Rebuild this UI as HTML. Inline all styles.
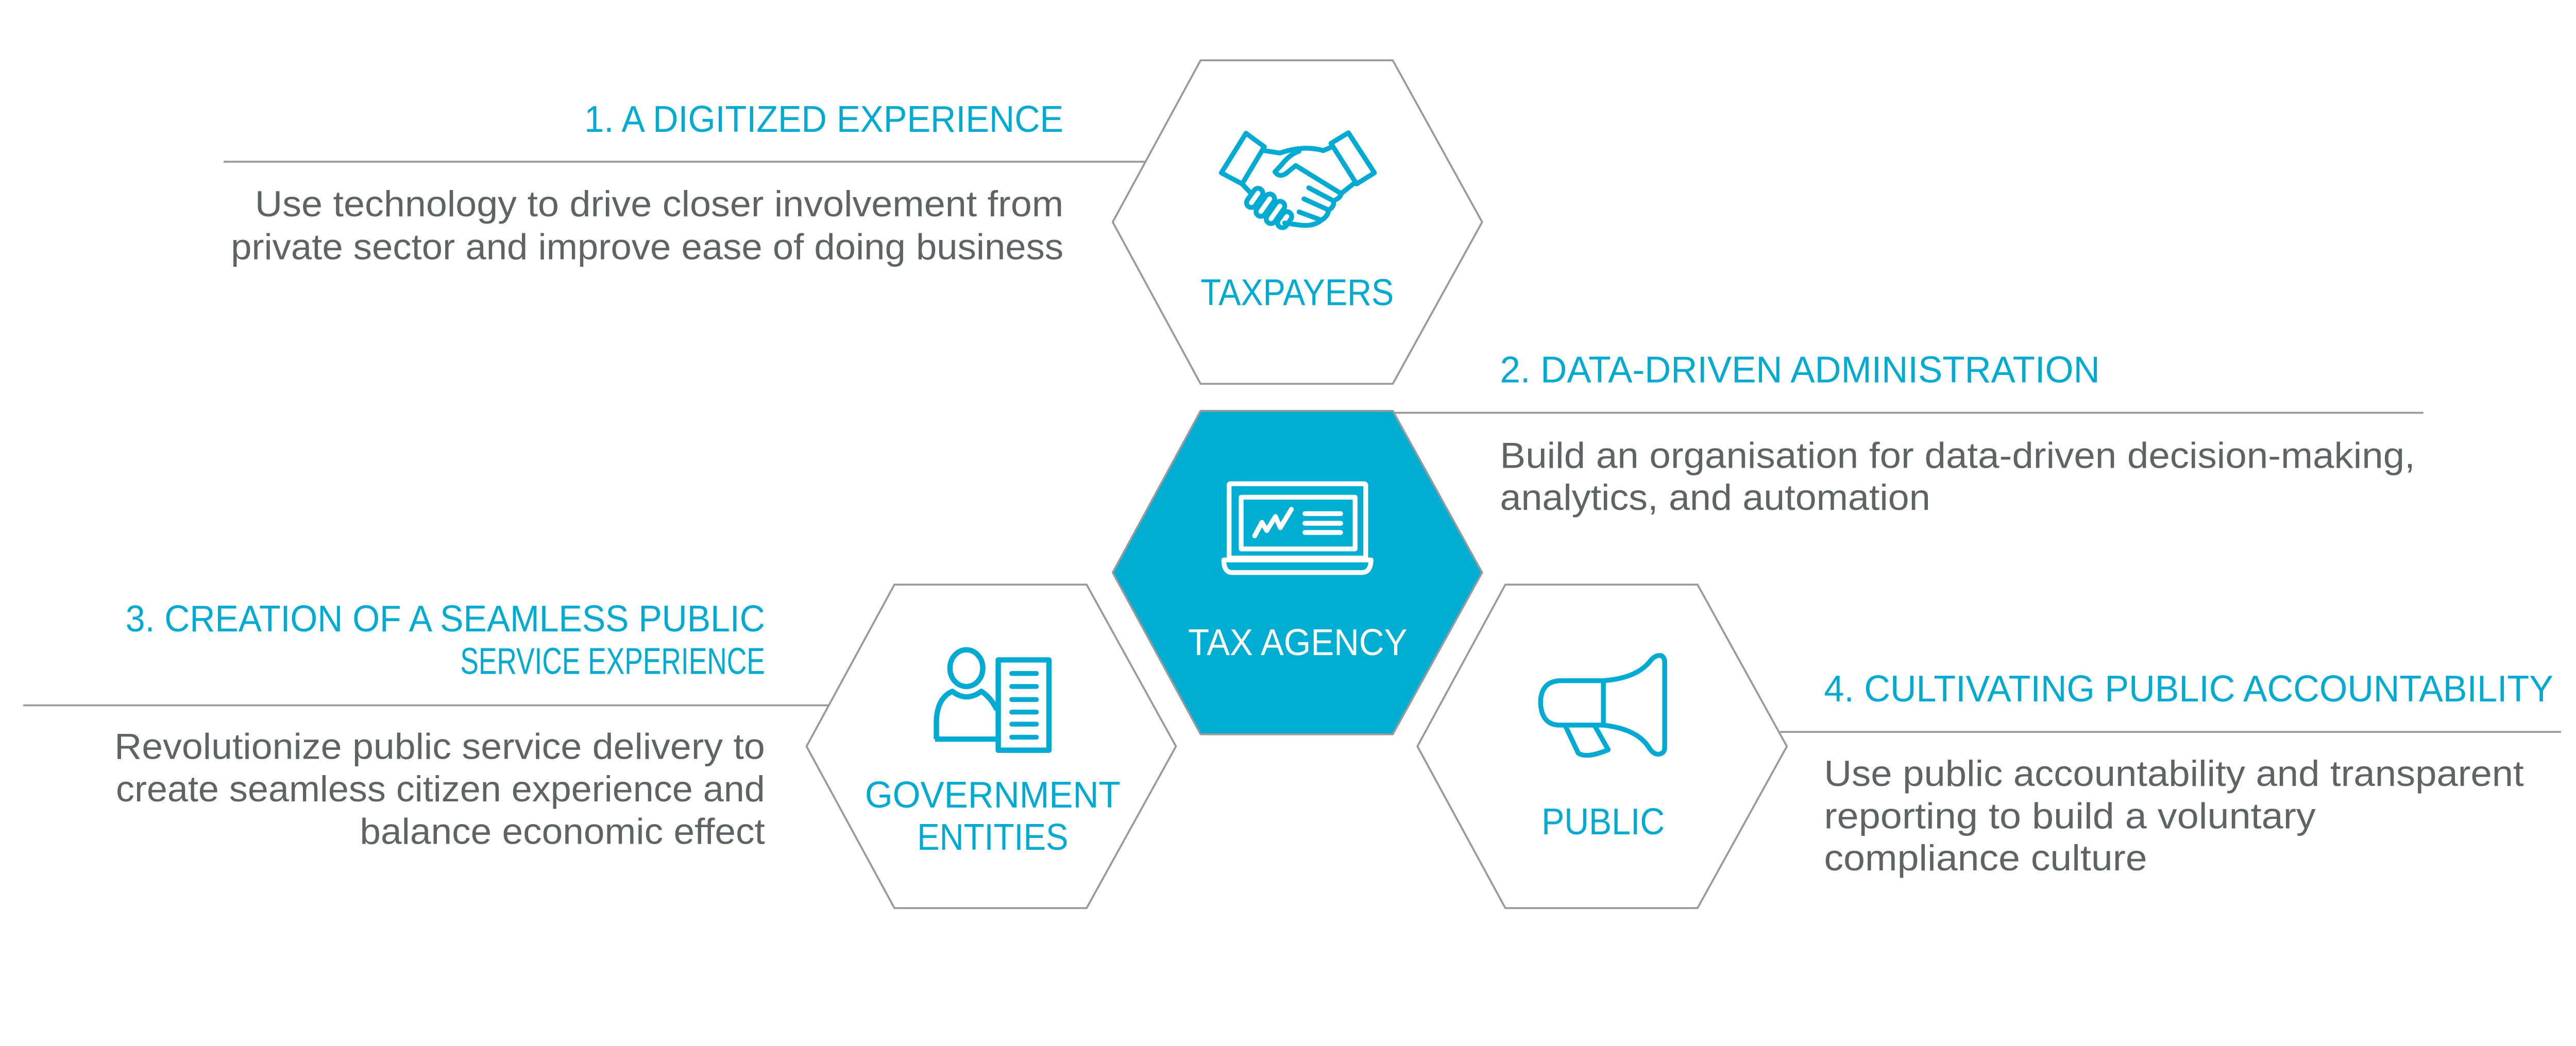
<!DOCTYPE html>
<html><head><meta charset="utf-8"><style>
html,body{margin:0;padding:0;background:#fff;width:100%;height:100%;overflow:hidden;}
svg{display:block;position:absolute;left:0;top:0;width:100vw;height:38.0765vw;}
text{font-family:"Liberation Sans",sans-serif;}
.h{fill:#00aad2;font-size:77px;}
.b{fill:#616265;font-size:75px;}
.l{fill:#00aad2;font-size:77px;}
</style></head><body>
<svg viewBox="0 0 5334 2031" preserveAspectRatio="none" xmlns="http://www.w3.org/2000/svg">
<rect width="5334" height="2031" fill="#fff"/>
<g stroke="#9a9a9c" stroke-width="4">
<line x1="463" y1="335" x2="2372" y2="335"/>
<line x1="2880" y1="855" x2="5018" y2="855"/>
<line x1="48" y1="1461" x2="1718" y2="1461"/>
<line x1="3686" y1="1516" x2="5303" y2="1516"/>
</g>
<g stroke="#9a9a9c" stroke-width="4" stroke-linejoin="round">
<path d="M2304,460 L2486,125 L2884,125 L3069,460 L2884,795 L2486,795 Z" fill="#fff"/>
<path d="M2304,1186 L2486,851 L2884,851 L3069,1186 L2884,1521 L2486,1521 Z" fill="#00aed3"/>
<path d="M1670,1546 L1852,1211 L2250,1211 L2435,1546 L2250,1881 L1852,1881 Z" fill="#fff"/>
<path d="M2935,1546 L3117,1211 L3515,1211 L3700,1546 L3515,1881 L3117,1881 Z" fill="#fff"/>
</g>
<g fill="none" stroke="#00aad2" stroke-width="10" stroke-linecap="round" stroke-linejoin="round">
<path d="M2580,276 L2618,304 L2572,381 L2529,358 Z"/>
<path d="M2792,275 L2846,358 L2809,381 L2756,297 Z"/>
<path d="M2618,312 L2650,317 Q2700,300 2740,312 L2756,305"/>
<path d="M2690,313 Q2670,320 2654,341 L2640,356 Q2648,368 2662,360 L2683,343 L2777,401 L2806,378"/>
<path d="M2710,389 L2761,416 Q2776,410 2777,401"/>
<path d="M2700,412 L2751,435 Q2764,428 2761,416"/>
<path d="M2690,439 L2736,456 Q2750,448 2751,435"/>
<path d="M2736,456 Q2720,470 2690,466 L2660,462"/>
<path d="M2572,381 L2590,400"/>
<rect x="-10" y="-22" width="20" height="44" rx="10" transform="translate(2598,410) rotate(35)"/>
<rect x="-10" y="-26" width="20" height="52" rx="10" transform="translate(2620,425) rotate(35)"/>
<rect x="-10" y="-26" width="20" height="52" rx="10" transform="translate(2641,440) rotate(35)"/>
<rect x="-10" y="-18" width="20" height="36" rx="10" transform="translate(2660,455) rotate(35)"/>
</g>
<g fill="none" stroke="#fff" stroke-width="10" stroke-linecap="round" stroke-linejoin="round">
<rect x="2545" y="1002" width="283" height="154" rx="3"/>
<rect x="2570" y="1030" width="236" height="107"/>
<path d="M2534,1160 L2839,1160 Q2838,1186 2820,1186 L2552,1186 Q2534,1186 2534,1160 Z"/>
<polyline points="2598,1110 2613,1082 2623,1099 2641,1070 2651,1093 2674,1055"/>
<line x1="2702" y1="1064" x2="2776" y2="1064"/>
<line x1="2702" y1="1084" x2="2776" y2="1084"/>
<line x1="2702" y1="1103" x2="2776" y2="1103"/>
</g>
<g fill="none" stroke="#00aad2" stroke-width="11" stroke-linejoin="round">
<ellipse cx="2001" cy="1384" rx="34" ry="38"/>
<path d="M1939,1531 L1939,1490 Q1942,1445 1972,1432 Q2001,1455 2032,1432 Q2052,1445 2064,1470"/>
<line x1="1936" y1="1531" x2="2066" y2="1531"/>
<rect x="2067" y="1367" width="105" height="187"/>
</g>
<g stroke="#00aad2" stroke-width="10" stroke-linecap="round">
<line x1="2095" y1="1395" x2="2146" y2="1395"/>
<line x1="2095" y1="1422" x2="2146" y2="1422"/>
<line x1="2095" y1="1449" x2="2146" y2="1449"/>
<line x1="2095" y1="1475" x2="2146" y2="1475"/>
<line x1="2095" y1="1500" x2="2146" y2="1500"/>
<line x1="2095" y1="1527" x2="2146" y2="1527"/>
</g>
<g fill="none" stroke="#00aad2" stroke-width="10" stroke-linecap="round" stroke-linejoin="round">
<path d="M3320,1410 L3230,1410 Q3190,1412 3190,1456 Q3192,1502 3230,1502 L3320,1502 Z"/>
<path d="M3320,1410 Q3390,1405 3418,1368 Q3428,1356 3440,1358 Q3447,1362 3447,1372 L3447,1548 Q3447,1560 3436,1562 Q3424,1564 3414,1548 Q3390,1510 3320,1502"/>
<path d="M3241,1503 L3268,1560 Q3285,1572 3330,1553 L3302,1503"/>
</g>
<text class="l" x="2486" y="632" textLength="400" lengthAdjust="spacingAndGlyphs">TAXPAYERS</text>
<text class="l" x="2460" y="1357" textLength="454" lengthAdjust="spacingAndGlyphs" style="fill:#fff">TAX AGENCY</text>
<text class="l" x="1791" y="1673" textLength="529" lengthAdjust="spacingAndGlyphs">GOVERNMENT</text>
<text class="l" x="1899" y="1760" textLength="313" lengthAdjust="spacingAndGlyphs">ENTITIES</text>
<text class="l" x="3192" y="1728" textLength="255" lengthAdjust="spacingAndGlyphs">PUBLIC</text>
<text class="h" x="1210" y="273" textLength="992" lengthAdjust="spacingAndGlyphs">1. A DIGITIZED EXPERIENCE</text>
<text class="h" x="3106" y="792" textLength="1242" lengthAdjust="spacingAndGlyphs">2. DATA-DRIVEN ADMINISTRATION</text>
<text class="h" x="260" y="1308" textLength="1324" lengthAdjust="spacingAndGlyphs">3. CREATION OF A SEAMLESS PUBLIC</text>
<text class="h" x="953" y="1396" textLength="631" lengthAdjust="spacingAndGlyphs">SERVICE EXPERIENCE</text>
<text class="h" x="3777" y="1453" textLength="1510" lengthAdjust="spacingAndGlyphs">4. CULTIVATING PUBLIC ACCOUNTABILITY</text>
<text class="b" x="528" y="448" textLength="1674" lengthAdjust="spacingAndGlyphs">Use technology to drive closer involvement from</text>
<text class="b" x="478" y="537" textLength="1724" lengthAdjust="spacingAndGlyphs">private sector and improve ease of doing business</text>
<text class="b" x="3106" y="969" textLength="1895" lengthAdjust="spacingAndGlyphs">Build an organisation for data-driven decision-making,</text>
<text class="b" x="3106" y="1056" textLength="891" lengthAdjust="spacingAndGlyphs">analytics, and automation</text>
<text class="b" x="237" y="1572" textLength="1347" lengthAdjust="spacingAndGlyphs">Revolutionize public service delivery to</text>
<text class="b" x="240" y="1660" textLength="1344" lengthAdjust="spacingAndGlyphs">create seamless citizen experience and</text>
<text class="b" x="745" y="1748" textLength="839" lengthAdjust="spacingAndGlyphs">balance economic effect</text>
<text class="b" x="3777" y="1628" textLength="1449" lengthAdjust="spacingAndGlyphs">Use public accountability and transparent</text>
<text class="b" x="3777" y="1716" textLength="1018" lengthAdjust="spacingAndGlyphs">reporting to build a voluntary</text>
<text class="b" x="3777" y="1803" textLength="669" lengthAdjust="spacingAndGlyphs">compliance culture</text>
</svg>
</body></html>
